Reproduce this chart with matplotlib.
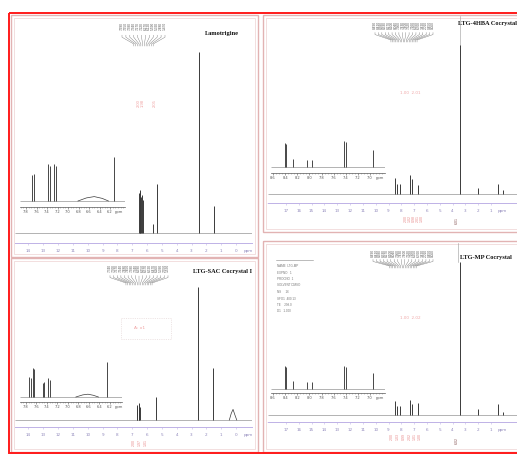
import matplotlib
matplotlib.use("Agg")
import matplotlib.pyplot as plt
from matplotlib.patches import Rectangle
from matplotlib.ticker import MultipleLocator

W, H = 517, 454

# ---------------- spectra: peak positions (ppm) and relative intensities ----------------
# Lamotrigine
lam_ppm = [6.55, 6.50, 6.46, 6.38, 6.33, 6.27, 5.59, 5.32, 2.48, 1.47]
lam_int = [0.22, 0.24, 0.23, 0.20, 0.21, 0.18, 0.05, 0.27, 1.00, 0.15]
lam_zoom_ppm = [7.69, 7.65, 7.38, 7.34, 7.27, 7.22, 6.12]
lam_zoom_int = [0.60, 0.62, 0.85, 0.80, 0.85, 0.80, 1.00]
lam_zoom_hump_ppm = [6.81, 6.65, 6.50, 6.35, 6.23]
lam_zoom_hump_int = [0.00, 0.07, 0.10, 0.06, 0.00]

# LTG-4HBA cocrystal
hba_ppm = [8.49, 8.33, 8.10, 7.32, 7.16, 6.70, 3.42, 2.01, 0.45, 0.06]
hba_int = [0.11, 0.07, 0.07, 0.13, 0.10, 0.06, 1.00, 0.04, 0.07, 0.03]
hba_zoom_ppm = [8.41, 8.38, 8.27, 8.04, 7.96, 7.43, 7.40, 6.95]
hba_zoom_int = [0.92, 0.88, 0.30, 0.27, 0.27, 1.00, 0.95, 0.65]

# LTG-SAC cocrystal I
sac_ppm = [6.69, 6.65, 6.57, 6.52, 6.47, 5.39, 2.55, 1.53]
sac_int = [0.11, 0.10, 0.13, 0.12, 0.10, 0.17, 1.00, 0.39]
sac_hump_ppm = [0.45, 0.32, 0.20, 0.08, -0.05]
sac_hump_int = [0.00, 0.05, 0.08, 0.04, 0.00]
sac_zoom_ppm = [7.74, 7.70, 7.67, 7.64, 7.48, 7.45, 7.38, 7.34, 6.26]
sac_zoom_int = [0.57, 0.55, 0.83, 0.80, 0.40, 0.43, 0.54, 0.50, 1.00]
sac_zoom_hump_ppm = [6.85, 6.72, 6.62, 6.52, 6.42]
sac_zoom_hump_int = [0.00, 0.06, 0.08, 0.05, 0.00]

# LTG-MP cocrystal
mp_ppm = [8.49, 8.33, 8.10, 7.32, 7.16, 6.70, 3.42, 2.01, 0.45, 0.06]
mp_int = [0.09, 0.06, 0.06, 0.10, 0.07, 0.08, 1.00, 0.04, 0.07, 0.02]
mp_zoom_ppm = [8.41, 8.38, 8.27, 8.04, 7.96, 7.43, 7.40, 6.95]
mp_zoom_int = [1.00, 0.95, 0.36, 0.29, 0.29, 1.00, 0.95, 0.71]

# axis tick labels
ticks_a = list(range(14, -1, -1))
ticks_b = list(range(17, 0, -1))
zoom_ticks_a = [7.8, 7.6, 7.4, 7.2, 7.0, 6.8, 6.6, 6.4, 6.2]
zoom_ticks_b = [8.6, 8.4, 8.2, 8.0, 7.8, 7.6, 7.4, 7.2, 7.0]

titles = ["Lamotrigine", "LTG-4HBA Cocrystal", "LTG-SAC Cocrystal I", "LTG-MP Cocrystal"]
integrals_hba = ["2.00", "1.02", "0.98", "2.01", "1.00"]
integrals_sac = ["2.00", "1.97", "1.01"]
integrals_mp = ["2.00", "1.03", "0.99", "2.02", "1.01", "1.00"]

LINE = "#3a3a3a"
LAV = "#bfb2e6"
LAVTXT = "#8f87bb"
PINK = "#e2b3b3"
RED = "#e88a8a"

fig = plt.figure(figsize=(W / 100, H / 100), dpi=100)
fig.patch.set_facecolor("white")

# pixel-space layer for frames and annotations
ov = fig.add_axes([0, 0, 1, 1], zorder=0)
ov.set_xlim(0, W)
ov.set_ylim(H, 0)
ov.axis("off")


def spec_axes(x0, x1, ytop, yaxis, ybase, ypeak, ticks, tx0, tx1, inset=False):
    ax = fig.add_axes([x0 / W, 1 - yaxis / H, (x1 - x0) / W, (yaxis - ytop) / H], zorder=2)
    step = (ticks[0] - ticks[-1]) / (tx1 - tx0)
    left = ticks[0] + (tx0 - x0) * step
    right = ticks[-1] - (x1 - tx1) * step
    ax.set_xlim(left, right)
    unit = ybase - ypeak
    ax.set_ylim(-(yaxis - ybase) / unit, (ybase - ytop) / unit)
    ax.patch.set_alpha(0)
    for s in ["top", "left", "right"]:
        ax.spines[s].set_visible(False)
    ax.set_yticks([])
    ax.set_xticks(ticks)
    if inset:
        ax.set_xticklabels([f"{t:.1f}" for t in ticks])
        ax.spines["bottom"].set_color("#555555")
        ax.spines["bottom"].set_linewidth(0.5)
        ax.xaxis.set_minor_locator(MultipleLocator(0.05))
        ax.tick_params(axis="x", which="major", length=1.4, width=0.4, colors="#555555",
                       labelsize=2.6, pad=1.0)
        ax.tick_params(axis="x", which="minor", length=0.7, width=0.3, colors="#777777")
        lab_col, lab_size, lab_off = "#555555", 2.6, 2.4
    else:
        ax.set_xticklabels([str(t) for t in ticks])
        ax.spines["bottom"].set_color(LAV)
        ax.spines["bottom"].set_linewidth(0.7)
        ax.xaxis.set_minor_locator(MultipleLocator(0.2))
        ax.tick_params(axis="x", which="major", length=1.6, width=0.4, colors=LAV,
                       labelcolor=LAVTXT, labelsize=3.0, pad=2.6)
        ax.tick_params(axis="x", which="minor", length=0.8, width=0.3, colors=LAV)
        lab_col, lab_size, lab_off = LAVTXT, 3.0, 4.2
    ax.annotate("ppm", xy=(ticks[-1] - (ticks[0] - ticks[-1]) / (len(ticks) - 1) * 0.85, 0),
                xycoords=("data", "axes fraction"), xytext=(0, -lab_off),
                textcoords="offset points", ha="center", va="top",
                fontsize=lab_size, color=lab_col)
    ax.hlines(0, left, right, color="#888888", lw=0.45)
    return ax


def draw_peaks(ax, ppm, inten, lw=0.7):
    ax.vlines(ppm, 0, inten, color=LINE, lw=lw)


def draw_hump(ax, ppm, inten):
    ax.plot(ppm, inten, color=LINE, lw=0.5)


def peak_block(x0, x1, ytop, ybot, values):
    n = len(values)
    xs = [x0 + (x1 - x0) * i / (n - 1) for i in range(n)]
    ymid = ytop + (ybot - ytop) * 0.55
    cx = (x0 + x1) / 2
    for x, v in zip(xs, values):
        ov.text(x, ytop, f"{v:.3f}", rotation=90, fontsize=2.3, color="#555555",
                ha="center", va="top", family="Liberation Sans")
        xe = cx + (x - cx) * 0.45
        ov.plot([x, x, xe, xe], [ymid, ymid + 2, ybot - 2, ybot], color="#777777", lw=0.3)


def title(x, y, s):
    ov.text(x, y, s, fontsize=4.6, fontweight="bold", family="Liberation Serif",
            ha="left", va="center", color="#111111")


def red_vertical(xs, y, labels, color=RED, size=2.6):
    for x, s in zip(xs, labels):
        ov.text(x, y, s, rotation=90, fontsize=size, color=color, ha="center",
                va="center", family="Liberation Sans")


# ---------------- frames ----------------
frames = [(11, 15, 258, 257), (263, 15, 530, 232), (11, 258, 258, 452), (263, 241, 530, 452)]
for x0, y0, x1, y1 in frames:
    ov.add_patch(Rectangle((x0, y0), x1 - x0, y1 - y0, fill=False, ec=PINK, lw=1.0))
    ov.add_patch(Rectangle((x0 + 3, y0 + 3), x1 - x0 - 6, y1 - y0 - 6, fill=False,
                           ec="#f1d9d9", lw=0.6))
ov.add_patch(Rectangle((8.5, 13), 540, 440, fill=False, ec="#ff1a1a", lw=1.4))

# ---------------- panel 1: Lamotrigine ----------------
ax1 = spec_axes(15, 252, 30, 243, 233, 52, ticks_a, 28.5, 236)
draw_peaks(ax1, lam_ppm, lam_int)
ax1i = spec_axes(20, 125, 150, 207, 201, 157, zoom_ticks_a, 26, 110, inset=True)
draw_peaks(ax1i, lam_zoom_ppm, lam_zoom_int, lw=0.65)
draw_hump(ax1i, lam_zoom_hump_ppm, lam_zoom_hump_int)
peak_block(122, 165, 22, 46, sorted(lam_zoom_ppm + lam_ppm[5:], reverse=True))
title(205, 34, titles[0])
red_vertical([139, 143, 155], 103, ["2.00", "1.98", "2.05"], color="#f0a0a0", size=3.0)

# ---------------- panel 2: LTG-4HBA ----------------
ax2 = spec_axes(268, 525, 30, 203, 194, 45, ticks_b, 286, 491)
draw_peaks(ax2, hba_ppm, hba_int)
ax2i = spec_axes(271, 385, 125, 173, 167, 141, zoom_ticks_b, 273, 370, inset=True)
draw_peaks(ax2i, hba_zoom_ppm, hba_zoom_int, lw=0.65)
peak_block(375, 433, 21, 42, sorted(hba_zoom_ppm + hba_ppm, reverse=True))
title(458, 24, titles[1])
ov.plot([460, 460], [16, 46], color="#9a9a9a", lw=0.4)
ov.text(410, 93, "1.00  2.01", fontsize=3.0, color="#f0a8a8", ha="center", va="center")
red_vertical([406, 410, 414, 418, 422], 219, integrals_hba)
red_vertical([457], 220, ["6.01"], color="#8a5a5a")

# ---------------- panel 3: LTG-SAC ----------------
ax3 = spec_axes(15, 252, 270, 427, 420, 287, ticks_a, 28.5, 236)
draw_peaks(ax3, sac_ppm, sac_int)
draw_hump(ax3, sac_hump_ppm, sac_hump_int)
ax3i = spec_axes(20, 122, 352, 402, 397, 362, zoom_ticks_a, 26, 110, inset=True)
draw_peaks(ax3i, sac_zoom_ppm, sac_zoom_int, lw=0.65)
draw_hump(ax3i, sac_zoom_hump_ppm, sac_zoom_hump_int)
peak_block(110, 168, 264, 285, sorted(sac_zoom_ppm + sac_ppm, reverse=True))
title(193, 272, titles[2])
ov.add_patch(Rectangle((121, 318), 50, 21, fill=False, ec="#e0d0d0", lw=0.4, ls=(0, (2, 2))))
ov.text(140, 328, "A: x1", fontsize=3.2, color="#f0a0a0", ha="center", va="center")
red_vertical([134, 140, 146], 442, integrals_sac)

# ---------------- panel 4: LTG-MP ----------------
ax4 = spec_axes(268, 525, 262, 422, 415, 262, ticks_b, 286, 491)
draw_peaks(ax4, mp_ppm, mp_int)
ax4i = spec_axes(271, 385, 350, 393, 389, 366, zoom_ticks_b, 273, 370, inset=True)
draw_peaks(ax4i, mp_zoom_ppm, mp_zoom_int, lw=0.65)
peak_block(373, 433, 249, 268, sorted(mp_zoom_ppm + mp_ppm, reverse=True))
title(460, 257, titles[3])
ov.plot([458, 458], [243, 262], color="#9a9a9a", lw=0.4)
ov.text(410, 318, "1.00  2.02", fontsize=3.0, color="#f0a8a8", ha="center", va="center")
red_vertical([392, 398, 404, 410, 415, 420], 437, integrals_mp)
red_vertical([457], 440, ["6.02"], color="#8a5a5a")

# acquisition parameter table
ov.plot([276, 313], [260, 260], color="#888888", lw=0.4)
params = ["NAME  LTG-MP", "EXPNO   1", "PROCNO  1", "SOLVENT DMSO", "NS     16",
          "SFO1  400.13", "TE    298.0", "D1   1.000"]
for i, p in enumerate(params):
    ov.text(277, 264 + i * 6.5, p, fontsize=2.2, color="#777777", ha="left", va="top",
            family="Liberation Sans")

fig.savefig("out.png", dpi=100)
